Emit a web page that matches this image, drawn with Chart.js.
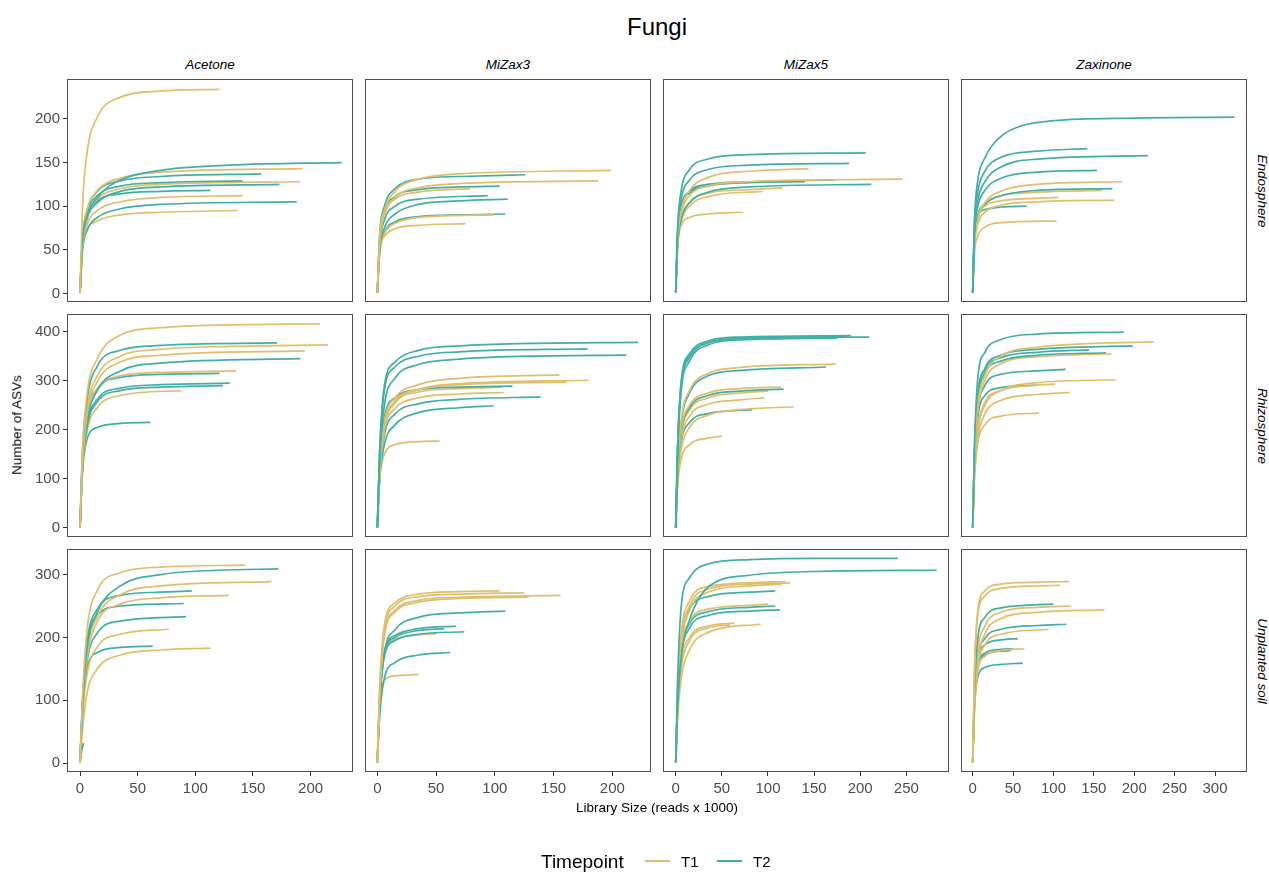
<!DOCTYPE html>
<html>
<head>
<meta charset="utf-8">
<title>Fungi</title>
<script src="https://cdn.jsdelivr.net/npm/chart.js@4.4.1/dist/chart.umd.min.js"></script>
<style>
  body { margin: 0; background: #fff; font-family: "Liberation Sans", Arial, sans-serif; }
  #wrap { position: relative; width: 1269px; height: 875px; overflow: hidden; }
  #wrap canvas { position: absolute; }
  .lbl { position: absolute; white-space: nowrap; color: #000; line-height: 1; }
  .key { position: absolute; height: 2px; }
</style>
</head>
<body>
<div id="wrap"></div>
<script>
const treatments = ['Acetone', 'MiZax3', 'MiZax5', 'Zaxinone'];
const compartments = ['Endosphere', 'Rhizosphere', 'Unplanted soil'];

const xTicks = [
    [0, 50, 100, 150, 200],
    [0, 50, 100, 150, 200],
    [0, 50, 100, 150, 200, 250],
    [0, 50, 100, 150, 200, 250, 300],
];
const yTicks = [
    [0, 50, 100, 150, 200],
    [0, 100, 200, 300, 400],
    [0, 100, 200, 300],
];
const xLimits = [[-11.3, 236.8], [-10.5, 232.9], [-13.8, 296.3], [-14.5, 339.6]];
const yLimits = [[-9.9, 245.8], [-18.4, 436.0], [-14.3, 340.8]];

// rarefaction curves: [timepoint, [[reads x 1000, ASVs], ...]]
const endoAcetone = [
    ['T1', [[0,1],[2,95],[6,160],[15,202],[35,225],[70,232],[121,234]]],
    ['T2', [[0,1],[2,60],[6,88],[15,110],[35,130],[70,141],[130,147],[227,150]]],
    ['T1', [[0,1],[2,62],[6,95],[15,118],[35,132],[70,139],[193,143]]],
    ['T2', [[0,1],[2,62],[6,95],[15,117],[35,129],[70,134],[157,137]]],
    ['T2', [[0,1],[2,60],[6,92],[15,112],[35,123],[70,127],[141,129]]],
    ['T1', [[0,1],[2,58],[6,88],[15,108],[35,120],[70,125],[191,128]]],
    ['T2', [[0,1],[2,55],[6,85],[15,104],[35,117],[70,122],[173,125]]],
    ['T2', [[0,1],[2,58],[6,88],[15,106],[35,114],[70,117],[113,118]]],
    ['T1', [[0,1],[2,50],[6,78],[15,95],[35,105],[70,110],[141,112]]],
    ['T2', [[0,1],[2,48],[6,72],[15,87],[35,97],[70,102],[188,105]]],
    ['T1', [[0,1],[2,50],[6,72],[15,83],[35,90],[70,93],[137,95]]],
];
const endoMiZax3 = [
    ['T1', [[0,1],[2,65],[6,95],[15,117],[35,131],[70,137],[199,141]]],
    ['T1', [[0,1],[2,60],[6,90],[15,110],[35,121],[70,126],[188,129]]],
    ['T2', [[0,1],[2,68],[6,100],[15,120],[35,131],[70,134],[126,136]]],
    ['T2', [[0,1],[2,62],[6,94],[15,111],[35,119],[70,122],[104,123]]],
    ['T1', [[0,1],[2,58],[6,90],[15,108],[35,116],[79,120]]],
    ['T2', [[0,1],[2,55],[6,84],[15,100],[35,108],[94,112]]],
    ['T2', [[0,1],[2,50],[6,75],[15,91],[35,102],[70,106],[111,108]]],
    ['T1', [[0,1],[2,46],[6,68],[15,80],[35,87],[99,90]]],
    ['T2', [[0,1],[2,48],[6,70],[15,82],[35,88],[70,90],[109,91]]],
    ['T1', [[0,1],[2,48],[6,65],[15,74],[35,78],[75,80]]],
];
const endoMiZax5 = [
    ['T2', [[0,1],[2,75],[6,118],[15,142],[35,154],[80,159],[206,161]]],
    ['T2', [[0,1],[2,70],[6,108],[15,130],[35,142],[80,147],[188,149]]],
    ['T1', [[0,1],[2,62],[6,95],[15,118],[35,133],[80,140],[144,143]]],
    ['T1', [[0,1],[2,60],[6,92],[15,112],[35,123],[80,128],[150,130],[246,131]]],
    ['T2', [[0,1],[2,65],[6,100],[15,117],[35,125],[80,128],[173,130]]],
    ['T2', [[0,1],[2,55],[6,85],[15,104],[35,116],[80,122],[212,125]]],
    ['T2', [[0,1],[2,62],[6,98],[15,115],[35,123],[80,127],[140,128]]],
    ['T1', [[0,1],[2,55],[6,86],[15,104],[35,115],[80,119],[116,121]]],
    ['T1', [[0,1],[2,52],[6,82],[15,100],[35,111],[94,117]]],
    ['T1', [[0,1],[2,55],[6,78],[15,87],[35,91],[73,93]]],
];
const endoZaxinone = [
    ['T2', [[0,1],[2,80],[6,128],[15,155],[35,180],[60,192],[100,198],[200,201],[324,202]]],
    ['T2', [[0,1],[2,75],[6,115],[15,140],[35,156],[80,163],[142,166]]],
    ['T2', [[0,1],[2,70],[6,105],[15,128],[35,145],[80,154],[217,158]]],
    ['T2', [[0,1],[2,65],[6,98],[15,118],[35,132],[80,139],[154,141]]],
    ['T1', [[0,1],[2,55],[6,84],[15,104],[35,117],[80,125],[185,128]]],
    ['T2', [[0,1],[2,58],[6,88],[15,102],[35,112],[80,118],[173,120]]],
    ['T1', [[0,1],[2,55],[6,85],[15,102],[35,112],[80,116],[160,118]]],
    ['T1', [[0,1],[2,55],[6,85],[15,100],[35,106],[106,110]]],
    ['T1', [[0,1],[2,50],[6,78],[15,93],[35,101],[80,105],[175,107]]],
    ['T2', [[0,1],[2,60],[6,88],[15,96],[35,99],[67,100]]],
    ['T1', [[0,1],[2,45],[6,65],[15,76],[35,81],[104,83]]],
];

const rhizoAcetone = [
    ['T1', [[0,1],[2,150],[6,272],[15,345],[35,393],[70,408],[130,414],[208,416]]],
    ['T2', [[0,1],[2,150],[6,260],[15,330],[35,362],[70,372],[171,377]]],
    ['T1', [[0,1],[2,130],[6,240],[15,310],[35,350],[70,364],[130,370],[215,373]]],
    ['T1', [[0,1],[2,125],[6,230],[15,298],[35,338],[70,352],[195,361]]],
    ['T2', [[0,1],[2,120],[6,215],[15,280],[35,320],[70,336],[191,345]]],
    ['T1', [[0,1],[2,125],[6,225],[15,282],[35,310],[70,317],[135,320]]],
    ['T2', [[0,1],[2,130],[6,230],[15,283],[35,307],[70,313],[121,315]]],
    ['T2', [[0,1],[2,120],[6,210],[15,262],[35,285],[70,292],[130,295]]],
    ['T2', [[0,1],[2,118],[6,205],[15,257],[35,280],[70,287],[124,290]]],
    ['T1', [[0,1],[2,110],[6,195],[15,245],[35,270],[88,280]]],
    ['T2', [[0,1],[2,110],[6,180],[15,205],[35,213],[61,215]]],
];
const rhizoMiZax3 = [
    ['T2', [[0,1],[2,160],[6,290],[15,338],[35,362],[70,371],[130,376],[222,378]]],
    ['T2', [[0,1],[2,155],[6,280],[15,328],[35,350],[70,359],[179,365]]],
    ['T2', [[0,1],[2,140],[6,250],[15,305],[35,333],[70,344],[130,350],[212,352]]],
    ['T1', [[0,1],[2,120],[6,215],[15,265],[35,292],[70,305],[155,312]]],
    ['T1', [[0,1],[2,115],[6,205],[15,255],[35,282],[70,294],[180,301]]],
    ['T1', [[0,1],[2,118],[6,208],[15,258],[35,282],[70,292],[161,297]]],
    ['T2', [[0,1],[2,125],[6,225],[15,265],[35,282],[70,287],[115,289]]],
    ['T1', [[0,1],[2,120],[6,210],[15,255],[35,277],[70,284],[106,287]]],
    ['T1', [[0,1],[2,115],[6,200],[15,243],[35,265],[70,273],[108,276]]],
    ['T2', [[0,1],[2,110],[6,190],[15,232],[35,253],[70,262],[139,267]]],
    ['T2', [[0,1],[2,100],[6,170],[15,210],[35,235],[70,245],[99,249]]],
    ['T1', [[0,1],[2,100],[6,150],[15,170],[35,176],[53,177]]],
];
const rhizoMiZax5 = [
    ['T2', [[0,1],[2,160],[6,295],[15,350],[35,378],[70,386],[130,388],[210,389]]],
    ['T2', [[0,1],[2,165],[6,300],[15,355],[35,381],[70,389],[190,392]]],
    ['T2', [[0,1],[2,158],[6,290],[15,347],[35,377],[70,386],[185,390]]],
    ['T2', [[0,1],[2,150],[6,280],[15,340],[35,373],[70,383],[175,387]]],
    ['T1', [[0,1],[2,120],[6,220],[15,280],[35,315],[70,327],[173,334]]],
    ['T2', [[0,1],[2,118],[6,215],[15,275],[35,310],[70,321],[163,328]]],
    ['T1', [[0,1],[2,110],[6,200],[15,250],[35,275],[70,284],[114,287]]],
    ['T2', [[0,1],[2,108],[6,195],[15,245],[35,270],[70,279],[117,283]]],
    ['T1', [[0,1],[2,105],[6,190],[15,240],[35,265],[70,275],[100,279]]],
    ['T1', [[0,1],[2,100],[6,180],[15,228],[35,252],[70,261],[96,265]]],
    ['T1', [[0,1],[2,90],[6,160],[15,205],[35,230],[70,241],[128,247]]],
    ['T2', [[0,1],[2,100],[6,175],[15,215],[35,233],[83,241]]],
    ['T1', [[0,1],[2,85],[6,140],[15,170],[35,183],[50,187]]],
];
const rhizoZaxinone = [
    ['T2', [[0,1],[2,160],[6,300],[15,358],[35,384],[80,395],[187,399]]],
    ['T1', [[0,1],[2,130],[6,245],[15,310],[35,350],[80,368],[150,376],[224,379]]],
    ['T2', [[0,1],[2,145],[6,265],[15,325],[35,352],[80,364],[198,371]]],
    ['T2', [[0,1],[2,145],[6,265],[15,322],[35,347],[80,358],[144,363]]],
    ['T2', [[0,1],[2,140],[6,255],[15,315],[35,340],[80,352],[165,357]]],
    ['T1', [[0,1],[2,125],[6,235],[15,300],[35,335],[80,349],[172,355]]],
    ['T2', [[0,1],[2,130],[6,235],[15,290],[35,313],[80,320],[115,323]]],
    ['T1', [[0,1],[2,105],[6,195],[15,250],[35,280],[80,296],[177,302]]],
    ['T1', [[0,1],[2,110],[6,200],[15,255],[35,280],[80,291],[102,293]]],
    ['T2', [[0,1],[2,120],[6,220],[15,270],[35,286],[80,291]]],
    ['T1', [[0,1],[2,100],[6,180],[15,232],[35,260],[80,272],[120,276]]],
    ['T1', [[0,1],[2,95],[6,170],[15,210],[35,228],[82,234]]],
];

const soilAcetone = [
    ['T1', [[0,1],[2,100],[6,210],[15,275],[35,303],[70,312],[143,315]]],
    ['T2', [[0,1],[2,85],[6,180],[15,240],[35,282],[70,300],[120,307],[172,309]]],
    ['T1', [[0,1],[2,85],[6,175],[15,233],[35,268],[70,282],[166,289]]],
    ['T2', [[0,1],[2,90],[6,190],[15,245],[35,267],[70,272],[97,274]]],
    ['T1', [[0,1],[2,80],[6,165],[15,225],[35,253],[70,263],[129,267]]],
    ['T2', [[0,1],[2,90],[6,185],[15,235],[35,250],[90,254]]],
    ['T2', [[0,1],[2,80],[6,160],[15,207],[35,226],[92,233]]],
    ['T1', [[0,1],[2,70],[6,140],[15,185],[35,205],[77,213]]],
    ['T2', [[0,1],[2,80],[6,150],[15,176],[35,184],[63,186]]],
    ['T1', [[0,1],[2,50],[6,110],[15,150],[35,172],[70,180],[113,183]]],
    ['T2', [[0,1],[1,14],[2,24],[3,32]]],
];
const soilMiZax3 = [
    ['T1', [[0,1],[2,120],[6,220],[15,255],[35,269],[70,273],[104,274]]],
    ['T1', [[0,1],[2,115],[6,212],[15,250],[35,265],[70,269],[125,271]]],
    ['T1', [[0,1],[2,110],[6,205],[15,243],[35,259],[70,264],[156,267]]],
    ['T1', [[0,1],[2,110],[6,203],[15,240],[35,256],[70,262],[129,264]]],
    ['T2', [[0,1],[2,95],[6,175],[15,212],[35,232],[70,239],[109,242]]],
    ['T2', [[0,1],[2,100],[6,178],[15,203],[35,214],[67,218]]],
    ['T2', [[0,1],[2,98],[6,175],[15,200],[35,211],[57,214]]],
    ['T2', [[0,1],[2,95],[6,170],[15,195],[35,205],[74,209]]],
    ['T1', [[0,1],[2,100],[6,175],[15,197],[35,204],[50,206]]],
    ['T2', [[0,1],[2,75],[6,135],[15,160],[35,172],[62,176]]],
    ['T1', [[0,1],[2,95],[6,132],[15,139],[35,141]]],
];
const soilMiZax5 = [
    ['T2', [[0,1],[2,130],[6,250],[15,295],[35,317],[80,324],[150,326],[241,326]]],
    ['T2', [[0,1],[2,90],[6,170],[15,228],[35,280],[80,299],[150,305],[283,307]]],
    ['T1', [[0,1],[2,100],[6,195],[15,250],[35,277],[80,285],[124,287]]],
    ['T1', [[0,1],[2,105],[6,205],[15,258],[35,281],[80,287],[119,289]]],
    ['T1', [[0,1],[2,95],[6,185],[15,243],[35,272],[80,282],[115,285]]],
    ['T2', [[0,1],[2,110],[6,200],[15,245],[35,265],[80,272],[108,274]]],
    ['T1', [[0,1],[2,95],[6,180],[15,225],[35,245],[80,251],[100,253]]],
    ['T2', [[0,1],[2,100],[6,180],[15,222],[35,241],[80,248],[108,250]]],
    ['T2', [[0,1],[2,95],[6,172],[15,215],[35,235],[80,242],[113,244]]],
    ['T1', [[0,1],[2,85],[6,160],[15,200],[35,218],[64,223]]],
    ['T1', [[0,1],[2,70],[6,135],[15,180],[35,208],[92,221]]],
    ['T1', [[0,1],[2,80],[6,150],[15,195],[35,215],[59,220]]],
];
const soilZaxinone = [
    ['T1', [[0,1],[2,140],[6,240],[15,274],[35,285],[80,288],[119,289]]],
    ['T1', [[0,1],[2,135],[6,232],[15,266],[35,278],[80,282],[108,283]]],
    ['T2', [[0,1],[2,110],[6,195],[15,232],[35,247],[100,253]]],
    ['T1', [[0,1],[2,95],[6,175],[15,218],[35,240],[80,248],[122,250]]],
    ['T1', [[0,1],[2,85],[6,160],[15,205],[35,230],[80,240],[163,244]]],
    ['T2', [[0,1],[2,95],[6,165],[15,198],[35,213],[80,219],[116,221]]],
    ['T1', [[0,1],[2,80],[6,150],[15,188],[35,205],[94,213]]],
    ['T2', [[0,1],[2,100],[6,165],[15,188],[35,196],[56,198]]],
    ['T1', [[0,1],[2,80],[6,145],[15,170],[35,179],[64,182]]],
    ['T2', [[0,1],[2,95],[6,155],[15,175],[35,181],[50,182]]],
    ['T2', [[0,1],[2,92],[6,150],[15,172],[35,178],[47,179]]],
    ['T2', [[0,1],[2,85],[6,135],[15,152],[35,157],[62,159]]],
];

const panels = [
    [endoAcetone, endoMiZax3, endoMiZax5, endoZaxinone],
    [rhizoAcetone, rhizoMiZax3, rhizoMiZax5, rhizoZaxinone],
    [soilAcetone, soilMiZax3, soilMiZax5, soilZaxinone],
];

const lineColors = { T1: '#E1BE6A', T2: '#40B0A6' };

// facet grid geometry
const panelLeft = [67, 365, 663, 961];
const panelTop = [79, 314, 549];
const panelW = 286, panelH = 223;

const wrap = document.getElementById('wrap');
const FONT = '"Liberation Sans", Arial, sans-serif';

// panel border, drawn over the lines like ggplot does
const frame = {
    id: 'frame',
    afterDatasetsDraw(chart) {
        const { ctx, chartArea: a } = chart;
        ctx.save();
        ctx.strokeStyle = '#4d4d4d';
        ctx.lineWidth = 1;
        ctx.strokeRect(a.left + 0.5, a.top + 0.5, a.right - a.left - 1, a.bottom - a.top - 1);
        ctx.restore();
    },
};

// fixed axis sizes so every panel lines up; drop the label overhang padding
function fixSize(s, prop, size) {
    s[prop] = size;
    s.paddingTop = s.paddingBottom = s.paddingLeft = s.paddingRight = 0;
}

function makePanel(r, c) {
    const ml = c === 0 ? 60 : 3;
    const mb = r === 2 ? 34 : 3;
    const mt = 3, mr = 3;
    const canvas = document.createElement('canvas');
    canvas.width = panelW + ml + mr;
    canvas.height = panelH + mt + mb;
    canvas.style.left = (panelLeft[c] - ml) + 'px';
    canvas.style.top = (panelTop[r] - mt) + 'px';
    wrap.appendChild(canvas);

    const tickFont = { family: FONT, size: 15 };
    new Chart(canvas, {
        type: 'line',
        data: {
            datasets: panels[r][c].map(([tp, pts]) => ({
                label: tp,
                data: pts.map(([x, y]) => ({ x, y })),
                borderColor: lineColors[tp],
                borderWidth: 1.7,
                pointRadius: 0,
                cubicInterpolationMode: 'monotone',
                fill: false,
            })),
        },
        options: {
            responsive: false,
            animation: false,
            devicePixelRatio: 1,
            events: [],
            layout: { padding: { top: mt, right: mr, left: 0, bottom: 0 } },
            plugins: { legend: { display: false }, tooltip: { enabled: false } },
            scales: {
                x: {
                    type: 'linear',
                    min: xLimits[c][0],
                    max: xLimits[c][1],
                    afterBuildTicks: s => { s.ticks = xTicks[c].map(v => ({ value: v })); },
                    afterFit: s => fixSize(s, 'height', mb),
                    border: { display: false },
                    grid: { display: r === 2, drawOnChartArea: false, tickLength: 4, color: '#333' },
                    ticks: { display: r === 2, font: tickFont, color: '#4d4d4d', padding: 4, maxRotation: 0 },
                },
                y: {
                    type: 'linear',
                    min: yLimits[r][0],
                    max: yLimits[r][1],
                    afterBuildTicks: s => { s.ticks = yTicks[r].map(v => ({ value: v })); },
                    afterFit: s => fixSize(s, 'width', ml),
                    border: { display: false },
                    grid: { display: c === 0, drawOnChartArea: false, tickLength: 4, color: '#333' },
                    ticks: { display: c === 0, font: tickFont, color: '#4d4d4d', padding: 3 },
                },
            },
        },
        plugins: [frame],
    });
}

for (let r = 0; r < 3; r++) {
    for (let c = 0; c < 4; c++) makePanel(r, c);
}

function addText(txt, x, y, css, rot) {
    const d = document.createElement('div');
    d.className = 'lbl';
    d.textContent = txt;
    d.style.left = x + 'px';
    d.style.top = y + 'px';
    d.style.transform = 'translate(-50%, -50%)' + (rot ? ` rotate(${rot}deg)` : '');
    Object.assign(d.style, css);
    wrap.appendChild(d);
}

addText('Fungi', 657, 27, { fontSize: '24px' });
treatments.forEach((t, c) => addText(t, panelLeft[c] + panelW / 2, 65, { fontSize: '13.5px', fontStyle: 'italic' }));
compartments.forEach((t, r) => addText(t, 1262, panelTop[r] + panelH / 2, { fontSize: '13.5px', fontStyle: 'italic' }, 90));
addText('Number of ASVs', 17, 425, { fontSize: '13.5px' }, -90);
addText('Library Size (reads x 1000)', 657, 808, { fontSize: '13.5px' });

// legend
function addLeft(txt, x, y, size) {
    const d = document.createElement('div');
    d.className = 'lbl';
    d.textContent = txt;
    d.style.left = x + 'px';
    d.style.top = y + 'px';
    d.style.fontSize = size;
    d.style.transform = 'translateY(-50%)';
    wrap.appendChild(d);
}
function addKey(tp, x, y) {
    const k = document.createElement('div');
    k.className = 'key';
    k.style.left = x + 'px';
    k.style.top = (y - 1) + 'px';
    k.style.width = '25px';
    k.style.background = lineColors[tp];
    wrap.appendChild(k);
}
addLeft('Timepoint', 541, 861, '19px');
addKey('T1', 645, 861);
addLeft('T1', 681, 861, '15px');
addKey('T2', 717, 861);
addLeft('T2', 753, 861, '15px');
</script>
</body>
</html>
